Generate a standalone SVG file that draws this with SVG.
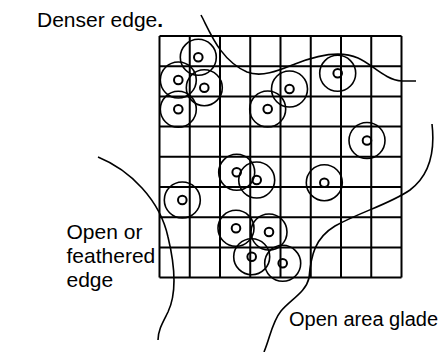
<svg xmlns="http://www.w3.org/2000/svg" width="440" height="352" viewBox="0 0 440 352">
<style>
.grid{stroke:#000;stroke-width:2;fill:none}
.edge{stroke:#000;stroke-width:1.6;fill:none}
.outer{stroke:#000;stroke-width:1.6;fill:none}
.inner{stroke:#000;stroke-width:2;fill:none}
text{font-family:"Liberation Sans",Arial,sans-serif;font-size:21px;fill:#000}
</style>
<rect width="440" height="352" fill="#fff"/>
<g id="grid" class="grid">
<path d="M159.5,36V277.6M189.75,36V277.6M220,36V277.6M250.25,36V277.6M280.5,36V277.6M310.75,36V277.6M341,36V277.6M371.25,36V277.6M401.5,36V277.6"/>
<path d="M159.5,36H401.5M159.5,66.2H401.5M159.5,96.4H401.5M159.5,126.6H401.5M159.5,156.8H401.5M159.5,187H401.5M159.5,217.2H401.5M159.5,247.4H401.5M159.5,277.6H401.5"/>
</g>
<defs>
<g id="tree"><circle class="outer" r="18"/><circle class="inner" r="4.3"/></g>
</defs>
<g id="trees">
<use href="#tree" x="198.3" y="57.3"/>
<use href="#tree" x="178.3" y="80"/>
<use href="#tree" x="204.3" y="87.7"/>
<use href="#tree" x="178.3" y="109.3"/>
<use href="#tree" x="267.7" y="109"/>
<use href="#tree" x="289.5" y="89"/>
<use href="#tree" x="337.7" y="73.3"/>
<use href="#tree" x="367" y="140.5"/>
<use href="#tree" x="236.7" y="172.3"/>
<use href="#tree" x="256.7" y="180"/>
<use href="#tree" x="182.3" y="200"/>
<use href="#tree" x="324.3" y="182.7"/>
<use href="#tree" x="236" y="228.3"/>
<use href="#tree" x="269" y="232"/>
<use href="#tree" x="251.7" y="256.7"/>
<use href="#tree" x="282.7" y="263.3"/>
</g>
<g id="connectors">
<path id="denser-edge" class="edge" d="M201,15 C210,32 220,60 247,72 C262,78 280,70 295,64 C315,56 340,50 358,58 C372,64 385,80 402,81 L416,81"/>
<path id="glade-edge" class="edge" d="M432,124 C435,150 430,175 410,190 C390,204 360,212 335,226 C315,238 311,255 309,278 C306,292 290,300 281,311 C272,322 270,338 264,352"/>
<path id="feathered-edge" class="edge" d="M98,157 C130,170 160,200 168,237 C176,270 176,295 168,312 C163,322 158,330 158,340"/>
</g>
<g id="labels">
<text x="37" y="27">Denser edge<tspan font-weight="bold">.</tspan></text>
<text x="66.5" y="239">Open or</text>
<text x="66.5" y="263">feathered</text>
<text x="66.5" y="287">edge</text>
<text x="289" y="326" style="font-size:20px">Open area glade</text>
</g>
</svg>
